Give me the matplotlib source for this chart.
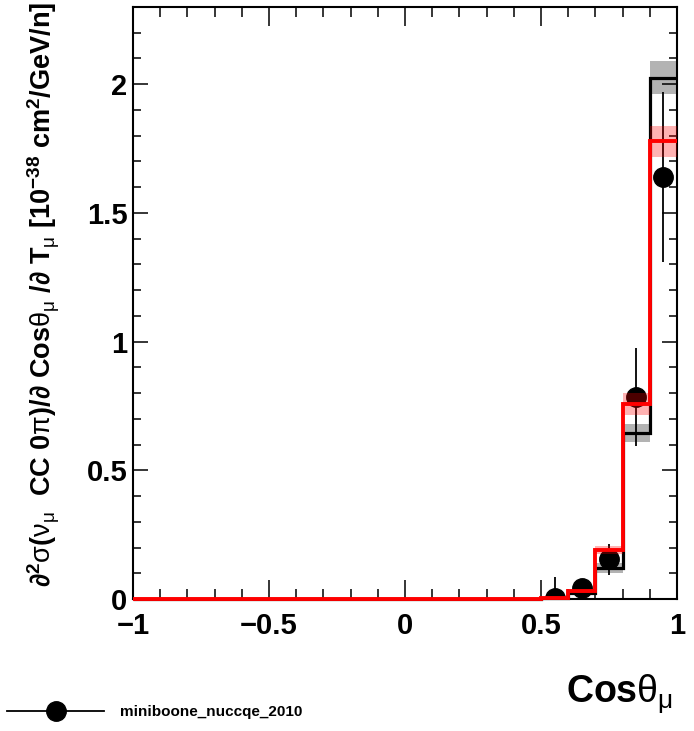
import numpy as np
import matplotlib
matplotlib.use('Agg')
import matplotlib.pyplot as plt
from matplotlib.lines import Line2D

plt.rcParams['font.family'] = ['Liberation Sans', 'DejaVu Sans']
plt.rcParams['mathtext.fontset'] = 'custom'
plt.rcParams['mathtext.rm'] = 'Liberation Sans:bold'
plt.rcParams['mathtext.bf'] = 'Liberation Sans:bold'
plt.rcParams['mathtext.it'] = 'Liberation Sans'
plt.rcParams['mathtext.sf'] = 'Liberation Sans:bold'

# bin edges in cos(theta_mu)
edges = [-1.0, -0.9, -0.8, -0.7, -0.6, -0.5, -0.4, -0.3, -0.2, -0.1, 0.0,
         0.1, 0.2, 0.3, 0.4, 0.5, 0.6, 0.7, 0.8, 0.9, 1.0]

# MC prediction 1 (black) with uncertainty band
mc1 = [0, 0, 0, 0, 0, 0, 0, 0, 0, 0, 0, 0, 0, 0, 0, 0.003, 0.025, 0.12, 0.645, 2.025]
mc1_err = [0, 0, 0, 0, 0, 0, 0, 0, 0, 0, 0, 0, 0, 0, 0, 0.002, 0.006, 0.02, 0.035, 0.064]

# MC prediction 2 (red) with uncertainty band
mc2 = [0, 0, 0, 0, 0, 0, 0, 0, 0, 0, 0, 0, 0, 0, 0, 0.005, 0.03, 0.19, 0.757, 1.778]
mc2_err = [0, 0, 0, 0, 0, 0, 0, 0, 0, 0, 0, 0, 0, 0, 0, 0.002, 0.006, 0.016, 0.043, 0.06]

# data points
data_x = [0.55, 0.65, 0.75, 0.85, 0.95]
data_y = [0.005, 0.043, 0.155, 0.785, 1.64]
data_err = [0.08, 0.02, 0.06, 0.19, 0.33]

fig = plt.figure(figsize=(6.94, 7.31), dpi=100)
ax = fig.add_axes([133 / 694, 1 - 599 / 731, 544 / 694, 592 / 731])

lo = np.array(edges[:-1])
w = np.diff(edges)

ax.bar(lo, 2 * np.array(mc1_err), bottom=np.array(mc1) - np.array(mc1_err),
       width=w, align='edge', color='#b3b3b3', linewidth=0, zorder=1)
ax.stairs(mc1, edges, baseline=None, color='black', linewidth=2.3, zorder=2,
          clip_on=False)

ax.errorbar(data_x, data_y, yerr=data_err, fmt='o', color='black',
            markersize=14, elinewidth=1.3, capsize=0, zorder=3)

ax.bar(lo, 2 * np.array(mc2_err), bottom=np.array(mc2) - np.array(mc2_err),
       width=w, align='edge', color='red', alpha=0.3, linewidth=0, zorder=4)
ax.stairs(mc2, edges, baseline=None, color='red', linewidth=2.8, zorder=5,
          clip_on=False)

ax.set_xlim(-1, 1)
ax.set_ylim(0, 2.3)
ax.set_xticks([-1, -0.5, 0, 0.5, 1])
ax.set_xticklabels(['\u22121', '\u22120.5', '0', '0.5', '1'])
ax.set_xticks(np.arange(-1, 1.001, 0.1), minor=True)
ax.set_yticks([0, 0.5, 1, 1.5, 2])
ax.set_yticklabels(['0', '0.5', '1', '1.5', '2'])
ax.set_yticks(np.arange(0, 2.301, 0.1), minor=True)

ax.tick_params(which='both', direction='in', top=True, right=True, width=1.1)
ax.tick_params(axis='x', which='major', length=14, pad=9)
ax.tick_params(axis='x', which='minor', length=7)
ax.tick_params(axis='y', which='major', length=11, pad=4)
ax.tick_params(axis='y', which='minor', length=5.5)
for lab in ax.get_xticklabels() + ax.get_yticklabels():
    lab.set_fontsize(21)
    lab.set_fontweight('bold')
for sp in ax.spines.values():
    sp.set_linewidth(1.5)

fig.text(673 / 694, 1 - 694 / 731, r'Cos$\theta_{\mu}$', fontsize=27,
         fontweight='bold', ha='right', va='center')

ylab = (r'$\partial^{2}\sigma(\nu_{\mu}$  CC 0$\pi$)/$\partial$ Cos$\theta_{\mu}$'
        r' /$\partial$ T$_{\mu}$ [10$^{-38}$ cm$^{2}$/GeV/n]')
fig.text(52 / 694, 1 - 2 / 731, ylab, fontsize=19.5, fontweight='bold',
         rotation=90, rotation_mode='anchor', ha='right', va='baseline')

h = Line2D([], [], color='black', marker='o', markersize=14, linewidth=1.3)
fig.legend(handles=[h], labels=['miniboone_nuccqe_2010'], loc='center left',
           bbox_to_anchor=(7 / 694, 1 - 712 / 731), frameon=False,
           handlelength=6.35, handletextpad=1.05, borderpad=0, borderaxespad=0,
           prop={'size': 11, 'weight': 'bold'})

fig.savefig('out.png', dpi=100)
